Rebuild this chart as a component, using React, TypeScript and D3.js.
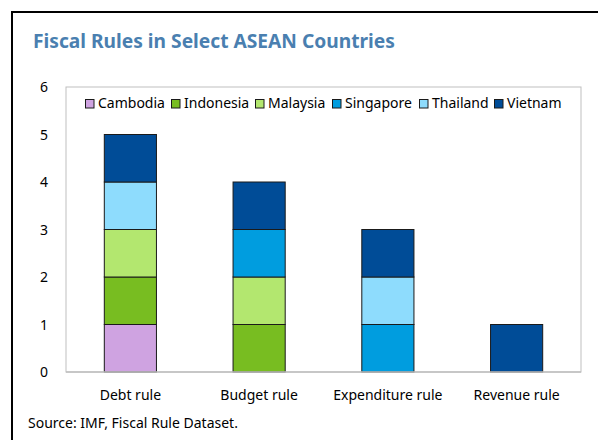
import React from "react";
import * as d3 from "d3";

const categories = ["Debt rule", "Budget rule", "Expenditure rule", "Revenue rule"];
const seriesNames = ["Cambodia", "Indonesia", "Malaysia", "Singapore", "Thailand", "Vietnam"];
const seriesColors = ["#cfa3e1", "#78bd21", "#b3e76f", "#009ddf", "#8edcfd", "#004c97"];
const cambodia = [1, 0, 0, 0];
const indonesia = [1, 1, 0, 0];
const malaysia = [1, 1, 0, 0];
const singapore = [0, 1, 1, 0];
const thailand = [1, 0, 1, 0];
const vietnam = [1, 1, 1, 1];
const yTicks = [0, 1, 2, 3, 4, 5, 6];

const W = 598;
const H = 440;
const plot = { left: 66, right: 581, top: 87, bottom: 372 };
const font = "'Noto Sans', 'Open Sans', sans-serif";

export default function App() {
  const seriesValues = [cambodia, indonesia, malaysia, singapore, thailand, vietnam];
  const rows = categories.map((c, i) => {
    const r: any = { cat: c };
    seriesNames.forEach((s, j) => (r[s] = seriesValues[j][i]));
    return r;
  });
  const stack = d3.stack<any>().keys(seriesNames)(rows);
  const x = d3.scaleBand().domain(categories).range([plot.left, plot.right]).paddingInner(0.595).paddingOuter(0.2975);
  const y = d3.scaleLinear().domain([0, 6]).range([plot.bottom, plot.top]);

  const legendX = [85, 171, 255, 332, 419, 494];

  return (
    <svg width={W} height={H} style={{ position: "absolute", left: 0, top: 0, background: "#fff" }}>
      <rect x={0} y={0} width={W} height={H} fill="#fff" />
      <line x1={11} y1={12} x2={W} y2={12} stroke="#000" strokeWidth={2} />
      <line x1={12} y1={11} x2={12} y2={H} stroke="#000" strokeWidth={2} />
      <text x={33} y={48} fill="#4a7fb0" fontFamily={font} fontWeight="bold" fontSize={19.2}>
        Fiscal Rules in Select ASEAN Countries
      </text>
      <rect x={plot.left} y={plot.top} width={plot.right - plot.left} height={plot.bottom - plot.top} fill="none" stroke="#bfbfbf" strokeWidth={1} />
      {yTicks.map((t) => (
        <text key={t} x={48} y={y(t) + 5} textAnchor="end" fontFamily={font} fontSize={14} fill="#000">
          {t}
        </text>
      ))}
      {stack.map((s, si) =>
        s.map((d, i) =>
          d[1] - d[0] > 0 ? (
            <rect
              key={si + "-" + i}
              x={x(categories[i])!}
              y={y(d[1])}
              width={x.bandwidth()}
              height={y(d[0]) - y(d[1])}
              fill={seriesColors[si]}
              stroke="#1a1a1a"
              strokeWidth={1}
            />
          ) : null
        )
      )}
      <line x1={plot.left} y1={plot.bottom} x2={plot.right} y2={plot.bottom} stroke="#bfbfbf" strokeWidth={1.5} />
      {categories.map((c) => (
        <text key={c} x={x(c)! + x.bandwidth() / 2} y={400} textAnchor="middle" fontFamily={font} fontSize={14} fill="#000">
          {c}
        </text>
      ))}
      {seriesNames.map((s, i) => (
        <g key={s}>
          <rect x={legendX[i] + 0.5} y={99.5} width={8.5} height={8.5} fill={seriesColors[i]} stroke="#1a1a1a" strokeWidth={1} />
          <text x={legendX[i] + 13} y={108} fontFamily={font} fontSize={14} fill="#000">
            {s}
          </text>
        </g>
      ))}
      <text x={28} y={428} fontFamily={font} fontSize={14} fill="#000">
        Source: IMF, Fiscal Rule Dataset.
      </text>
    </svg>
  );
}
